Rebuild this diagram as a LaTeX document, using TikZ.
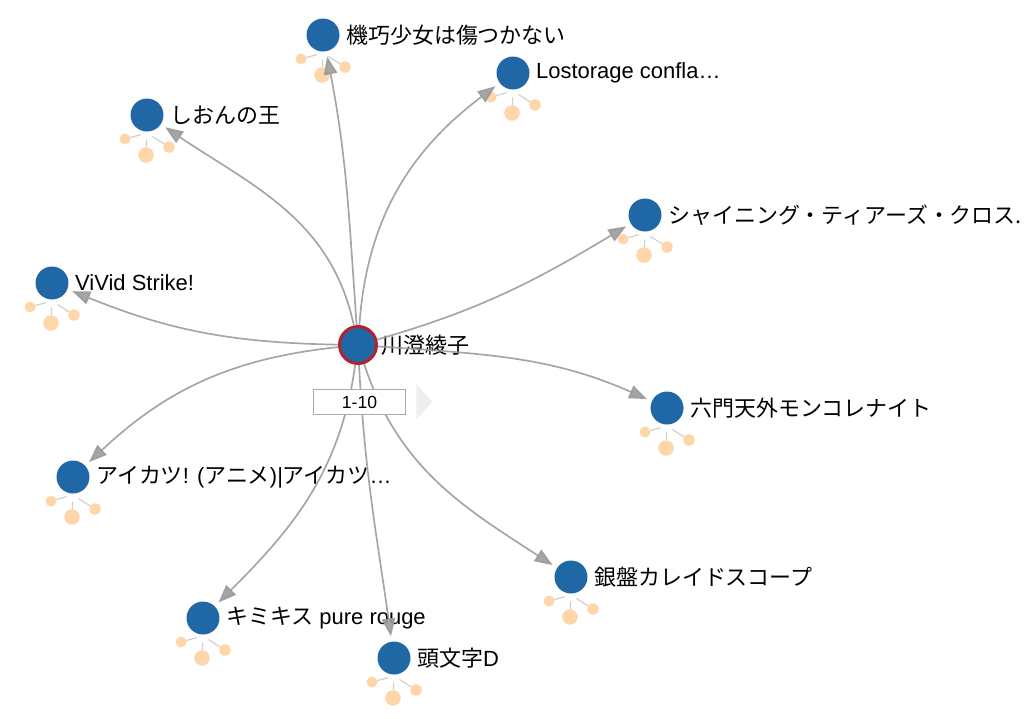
\documentclass[tikz,border=0pt]{standalone}
\usepackage{fontspec}
\setmainfont{Liberation Sans}
\newfontfamily\jp{Noto Sans CJK JP}
\usetikzlibrary{arrows.meta,positioning,shapes.geometric}
\definecolor{steel}{RGB}{31,104,165}
\definecolor{crimson}{RGB}{178,34,46}
\definecolor{peach}{RGB}{255,214,170}
\definecolor{ash}{RGB}{155,155,155}
\definecolor{twig}{RGB}{208,208,208}
\definecolor{shade}{RGB}{238,238,238}
\tikzset{
  work/.style={circle, fill=steel, minimum size=0.66cm, inner sep=0pt},
  actor/.style={circle, fill=steel, draw=crimson, line width=1.7pt, minimum size=0.74cm, inner sep=0pt},
  txt/.style={inner sep=0pt, anchor=west, font=\fontsize{12.5}{14}\selectfont},
  leafdot/.style={circle, fill=peach, inner sep=0pt, outer sep=0pt},
  twigline/.style={draw=twig, line width=0.7pt},
  link/.style={draw=ash, line width=0.95pt, opacity=0.9, -{Triangle[length=0.36cm, width=0.27cm]}, shorten >=0.1cm},
  pager/.style={draw=ash!85, line width=1pt, fill=white, minimum width=1.84cm, minimum height=0.5cm, inner sep=0pt, font=\fontsize{10}{12}\selectfont},
  more/.style={isosceles triangle, isosceles triangle stretches, fill=shade, minimum width=0.7cm, minimum height=0.32cm, inner sep=0pt, outer sep=0pt},
  sprig/.pic={
    \coordinate (-hub) at (0,18);
    \node[leafdot, minimum size=0.22cm] (-l) at (-22,24) {};
    \node[leafdot, minimum size=0.31cm] (-b) at (-1,40) {};
    \node[leafdot, minimum size=0.23cm] (-r) at (22,32) {};
    \draw[twigline, shorten <=0.13cm] (-hub) -- (-l);
    \draw[twigline, shorten <=0.13cm] (-hub) -- (-b);
    \draw[twigline, shorten <=0.13cm] (-hub) -- (-r);
  }
}

\begin{document}
\begin{tikzpicture}[x=0.02cm, y=-0.02cm]
\useasboundingbox (0,0) rectangle (1024,718);
% works
\node[work] (kiko) at (323,35) {};
\node[work] (lost) at (513,73) {};
\node[work] (shion) at (147,115) {};
\node[work] (shine) at (645,215) {};
\node[work] (vivid) at (52,283) {};
\node[work] (rokumon) at (667,408) {};
\node[work] (aikatsu) at (73,477) {};
\node[work] (ginban) at (571,577) {};
\node[work] (kimikiss) at (203,618) {};
\node[work] (initd) at (394,658) {};
\node[actor] (seiyu) at (358,345) {};
% titles
\node[txt, right=0.12cm of kiko] (kikoT) {\jp 機巧少女は傷つかない};
\node[txt, right=0.12cm of lost] (lostT) {Lostorage confla…};
\node[txt, right=0.12cm of shion] (shionT) {\jp しおんの王};
\node[txt, right=0.12cm of shine] (shineT) {\jp シャイニング・ティアーズ・クロス.};
\node[txt, right=0.12cm of vivid] (vividT) {ViVid Strike!};
\node[txt, right=0.06cm of seiyu] (seiyuT) {\jp 川澄綾子};
\node[txt, right=0.12cm of rokumon] (rokumonT) {\jp 六門天外モンコレナイト};
\node[txt, right=0.12cm of aikatsu] (aikatsuT) {{\jp アイカツ}! ({\jp アニメ})|{\jp アイカツ}…};
\node[txt, right=0.12cm of ginban] (ginbanT) {\jp 銀盤カレイドスコープ};
\node[txt, right=0.12cm of kimikiss] (kimikissT) {{\jp キミキス} pure rouge};
\node[txt, right=0.12cm of initd] (initdT) {{\jp 頭文字}D};
% collapsed neighbours
\pic (kikoS) at (kiko) {sprig};
\pic (lostS) at (lost) {sprig};
\pic (shionS) at (shion) {sprig};
\pic (shineS) at (shine) {sprig};
\pic (vividS) at (vivid) {sprig};
\pic (rokumonS) at (rokumon) {sprig};
\pic (aikatsuS) at (aikatsu) {sprig};
\pic (ginbanS) at (ginban) {sprig};
\pic (kimikissS) at (kimikiss) {sprig};
\pic (initdS) at (initd) {sprig};
% links
\draw[link] (seiyu) to[out=94, in=-79] (kiko);
\draw[link] (seiyu) to[out=86, in=-143] (lost);
\draw[link] (seiyu) to[out=102, in=-34] (shion);
\draw[link] (seiyu) to[out=16, in=-149] (shine);
\draw[link] (seiyu) to[out=179, in=-22] (vivid);
\draw[link] (seiyu) to[out=-4, in=156] (rokumon);
\draw[link] (seiyu) to[out=-174, in=43] (aikatsu);
\draw[link] (seiyu) to[out=-72, in=147] (ginban);
\draw[link] (seiyu) to[out=-98, in=45] (kimikiss);
\draw[link] (seiyu) to[out=-87, in=98] (initd);
% paging
\node[pager] (page) at (359.5,402) {1-10};
\node[more, right=0.2cm of page] (next) {};
\end{tikzpicture}
\end{document}
